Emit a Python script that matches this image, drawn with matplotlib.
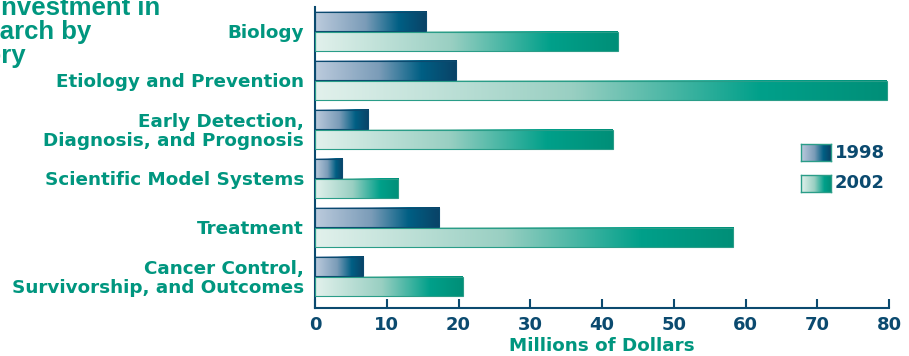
import matplotlib
matplotlib.use('Agg')
import matplotlib.pyplot as plt
from matplotlib.colors import LinearSegmentedColormap
import numpy as np

# data (millions of dollars)
categories = ['Biology', 'Etiology and Prevention',
              'Early Detection,\nDiagnosis, and Prognosis',
              'Scientific Model Systems', 'Treatment',
              'Cancer Control,\nSurvivorship, and Outcomes']
inv_1998 = [15.5, 19.7, 7.4, 3.8, 17.3, 6.7]
inv_2002 = [42.2, 79.7, 41.5, 11.6, 58.3, 20.6]
years = ['1998', '2002']
xticks = [0, 10, 20, 30, 40, 50, 60, 70, 80]

TEAL = '#00967f'
NAVY = '#0b4a6f'

cmap98 = LinearSegmentedColormap.from_list('c98', [(0, '#bccbdd'), (0.45, '#7b9cb8'),
                                                   (0.75, '#005f84'), (1, '#0a4266')])
cmap02 = LinearSegmentedColormap.from_list('c02', [(0, '#e2f1ec'), (0.45, '#99cfc2'),
                                                   (0.78, '#00a08a'), (1, '#008f78')])
grad = np.linspace(0, 1, 256).reshape(1, -1)

W, H = 909, 356
fig = plt.figure(figsize=(W / 100, H / 100), dpi=100)
ax = fig.add_axes([315 / W, 1 - 308 / H, (889 - 315) / W, (308 - 7) / H])

pos = np.arange(len(categories))
bh = 0.39
b98 = ax.barh(pos - 0.2, inv_1998, height=bh, facecolor='none', edgecolor=NAVY, linewidth=0.8, zorder=3)
b02 = ax.barh(pos + 0.2, inv_2002, height=bh, facecolor='none', edgecolor='#2a9d88', linewidth=0.8, zorder=3)

for bars, cm in ((b98, cmap98), (b02, cmap02)):
    for p in bars:
        x0, y0 = p.get_x(), p.get_y()
        ax.imshow(grad, cmap=cm, aspect='auto', zorder=2,
                  extent=[x0, x0 + p.get_width(), y0 + p.get_height(), y0])

ax.set_xlim(0, 80)
ax.set_ylim(5.643, -0.5)
ax.set_xticks(xticks)
ax.set_xticklabels([str(t) for t in xticks], fontsize=13, fontweight='bold', color=NAVY)
ax.set_yticks(pos)
ax.set_yticklabels(categories, fontsize=13.2, fontweight='bold', color=TEAL, linespacing=1.05)
ax.tick_params(axis='y', length=0, pad=8)
ax.tick_params(axis='x', direction='in', length=6.5, width=1.5, color=NAVY, pad=6)
for s in ('top', 'right'):
    ax.spines[s].set_visible(False)
for s in ('left', 'bottom'):
    ax.spines[s].set_color(NAVY)
    ax.spines[s].set_linewidth(1.5)
ax.set_xlabel('Millions of Dollars', fontsize=13.2, fontweight='bold', color=TEAL, labelpad=2)

# legend swatches
for i, (yr, cm) in enumerate(zip(years, (cmap98, cmap02))):
    top = 144 + i * 31
    lax = fig.add_axes([801 / W, 1 - (top + 17) / H, 30 / W, 17 / H])
    lax.imshow(grad, cmap=cm, aspect='auto')
    lax.set_xticks([])
    lax.set_yticks([])
    for s in lax.spines.values():
        s.set_color('#2a9d88')
        s.set_linewidth(1)
    fig.text(835 / W, 1 - (top + 8.5) / H, yr, fontsize=13, fontweight='bold',
             color=NAVY, va='center', ha='left')

# clipped title from the original page
title_lines = [('Investment in', 160, 15), ('Research by', 91, 39), ('Category', 26, 63)]
for txt, xr, yb in title_lines:
    fig.text(xr / W, 1 - yb / H, txt, fontsize=18.5, fontweight='bold', color=TEAL,
             family='Liberation Sans', ha='right', va='baseline')

fig.savefig('out.png', dpi=100)
